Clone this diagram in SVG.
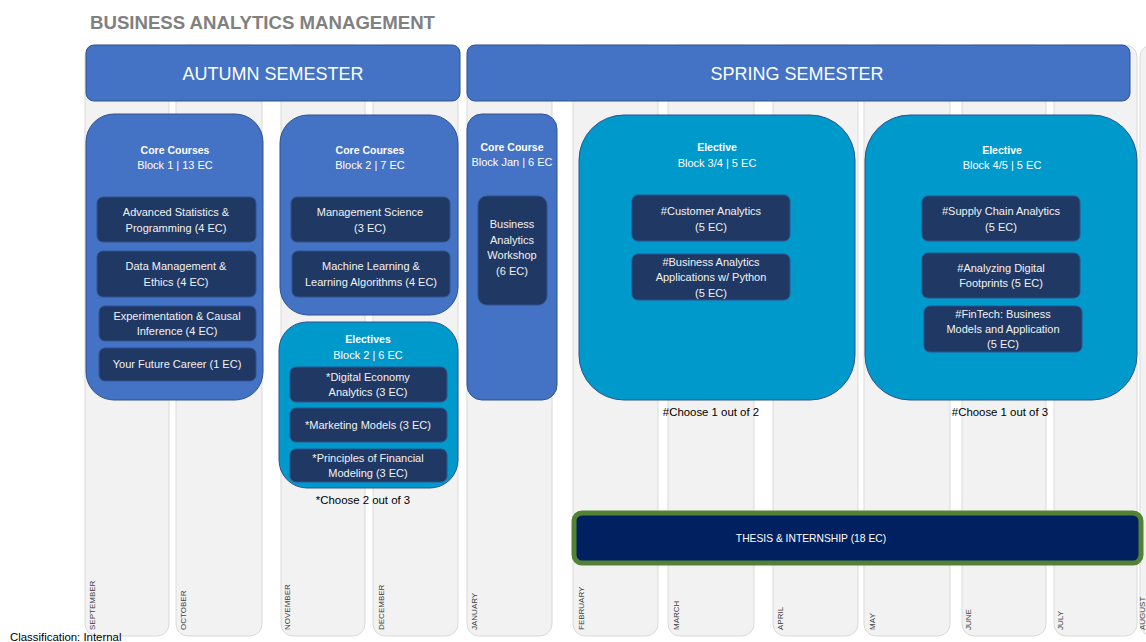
<svg xmlns="http://www.w3.org/2000/svg" width="1146" height="642" viewBox="0 0 1146 642">
<defs>
<style>
text{font-family:"Liberation Sans",Arial,sans-serif;}
.col{fill:#f2f2f2;stroke:#d9d9d9;stroke-width:1;}
.mon{font-size:8px;fill:#404040;}
.hdr{fill:#4472c4;stroke:#2f528f;stroke-width:1;}
.hdrt{font-size:18px;fill:#ffffff;text-anchor:middle;}
.core{fill:#4472c4;stroke:#2f528f;stroke-width:1;}
.elec{fill:#0099cc;stroke:#2f528f;stroke-width:1;}
.item{fill:#203864;stroke:#2f528f;stroke-width:1;}
.bt{font-size:10.5px;font-weight:bold;fill:#ffffff;text-anchor:middle;}
.bs{font-size:11px;fill:#ffffff;text-anchor:middle;}
.it{font-size:11px;fill:#f2f2f2;text-anchor:middle;}
.note{font-size:11.4px;fill:#000000;text-anchor:middle;}
</style>
</defs>
<rect width="1146" height="642" fill="#ffffff"/>
<g id="months">
<rect class="col" x="85" y="45" width="84" height="591" rx="12"/>
<rect class="col" x="176" y="45" width="86" height="591" rx="12"/>
<rect class="col" x="281" y="45" width="84" height="591" rx="12"/>
<rect class="col" x="373" y="45" width="85" height="591" rx="12"/>
<rect class="col" x="467" y="45" width="85" height="591" rx="12"/>
<rect class="col" x="573" y="45" width="85" height="591" rx="12"/>
<rect class="col" x="668" y="45" width="86" height="591" rx="12"/>
<rect class="col" x="773" y="45" width="85" height="591" rx="12"/>
<rect class="col" x="864" y="45" width="86" height="591" rx="12"/>
<rect class="col" x="962" y="45" width="84" height="591" rx="12"/>
<rect class="col" x="1054" y="45" width="83" height="591" rx="12"/>
<rect class="col" x="1140" y="45" width="84" height="591" rx="12"/>
<text class="mon" transform="translate(95,630) rotate(-90)">SEPTEMBER</text>
<text class="mon" transform="translate(186,630) rotate(-90)">OCTOBER</text>
<text class="mon" transform="translate(290,630) rotate(-90)">NOVEMBER</text>
<text class="mon" transform="translate(384,630) rotate(-90)">DECEMBER</text>
<text class="mon" transform="translate(477,630) rotate(-90)">JANUARY</text>
<text class="mon" transform="translate(584,630) rotate(-90)">FEBRUARY</text>
<text class="mon" transform="translate(679,630) rotate(-90)">MARCH</text>
<text class="mon" transform="translate(783,630) rotate(-90)">APRIL</text>
<text class="mon" transform="translate(875,630) rotate(-90)">MAY</text>
<text class="mon" transform="translate(971,630) rotate(-90)">JUNE</text>
<text class="mon" transform="translate(1063,630) rotate(-90)">JULY</text>
<text class="mon" transform="translate(1145,630) rotate(-90)">AUGUST</text>
</g>
<g id="title">
<text x="90" y="29" font-size="18" font-weight="bold" fill="#808080" textLength="345" lengthAdjust="spacingAndGlyphs">BUSINESS ANALYTICS MANAGEMENT</text>
</g>
<g id="autumn">
<rect class="hdr" x="86" y="45" width="374" height="56" rx="8"/>
<text class="hdrt" x="273" y="80">AUTUMN SEMESTER</text>
</g>
<g id="spring">
<rect class="hdr" x="467" y="45" width="663" height="56" rx="8"/>
<text class="hdrt" x="797" y="80">SPRING SEMESTER</text>
</g>
<g id="core-block1">
<rect class="core" x="86" y="114" width="177" height="286" rx="28"/>
<text class="bt" x="175" y="154">Core Courses</text>
<text class="bs" x="175" y="169">Block 1 | 13 EC</text>
<rect class="item" x="97" y="197" width="159" height="45" rx="6"/>
<text class="it" x="176" y="216">Advanced Statistics &amp;</text>
<text class="it" x="176" y="232">Programming (4 EC)</text>
<rect class="item" x="97" y="251" width="159" height="46" rx="6"/>
<text class="it" x="176" y="270">Data Management &amp;</text>
<text class="it" x="176" y="286">Ethics (4 EC)</text>
<rect class="item" x="99" y="306" width="157" height="35" rx="6"/>
<text class="it" x="177" y="320">Experimentation &amp; Causal</text>
<text class="it" x="177" y="335">Inference (4 EC)</text>
<rect class="item" x="99" y="348" width="157" height="33" rx="6"/>
<text class="it" x="177" y="368">Your Future Career (1 EC)</text>
</g>
<g id="core-block2">
<rect class="core" x="280" y="115" width="178" height="200" rx="28"/>
<text class="bt" x="370" y="154">Core Courses</text>
<text class="bs" x="370" y="169">Block 2 | 7 EC</text>
<rect class="item" x="291" y="197" width="159" height="45" rx="6"/>
<text class="it" x="370" y="216">Management Science</text>
<text class="it" x="370" y="232">(3 EC)</text>
<rect class="item" x="292" y="251" width="158" height="46" rx="6"/>
<text class="it" x="371" y="270">Machine Learning &amp;</text>
<text class="it" x="371" y="286">Learning Algorithms (4 EC)</text>
</g>
<g id="electives-block2">
<rect class="elec" x="279" y="322" width="179" height="166" rx="28"/>
<text class="bt" x="368" y="343">Electives</text>
<text class="bs" x="368" y="359">Block 2 | 6 EC</text>
<rect class="item" x="290" y="367" width="157" height="35" rx="6"/>
<text class="it" x="368" y="381">*Digital Economy</text>
<text class="it" x="368" y="396">Analytics (3 EC)</text>
<rect class="item" x="290" y="408" width="157" height="34" rx="6"/>
<text class="it" x="368" y="429">*Marketing Models (3 EC)</text>
<rect class="item" x="290" y="449" width="157" height="33" rx="6"/>
<text class="it" x="368" y="462">*Principles of Financial</text>
<text class="it" x="368" y="477">Modeling (3 EC)</text>
<text class="note" x="363" y="504">*Choose 2 out of 3</text>
</g>
<g id="core-jan">
<rect class="core" x="467" y="114" width="90" height="286" rx="15"/>
<text class="bt" x="512" y="151">Core Course</text>
<text class="bs" x="512" y="166">Block Jan | 6 EC</text>
<rect class="item" x="478" y="196" width="69" height="109" rx="9"/>
<text class="it" x="512" y="228">Business</text>
<text class="it" x="512" y="244">Analytics</text>
<text class="it" x="512" y="259">Workshop</text>
<text class="it" x="512" y="275">(6 EC)</text>
</g>
<g id="elective-block34">
<rect class="elec" x="579" y="115" width="276" height="285" rx="45"/>
<text class="bt" x="717" y="151">Elective</text>
<text class="bs" x="717" y="167">Block 3/4 | 5 EC</text>
<rect class="item" x="632" y="195" width="158" height="46" rx="6"/>
<text class="it" x="711" y="215">#Customer Analytics</text>
<text class="it" x="711" y="231">(5 EC)</text>
<rect class="item" x="632" y="254" width="158" height="46" rx="6"/>
<text class="it" x="711" y="266">#Business Analytics</text>
<text class="it" x="711" y="281">Applications w/ Python</text>
<text class="it" x="711" y="297">(5 EC)</text>
<text class="note" x="711" y="416">#Choose 1 out of 2</text>
</g>
<g id="elective-block45">
<rect class="elec" x="865" y="115" width="272" height="285" rx="45"/>
<text class="bt" x="1002" y="154">Elective</text>
<text class="bs" x="1002" y="169">Block 4/5 | 5 EC</text>
<rect class="item" x="922" y="196" width="158" height="45" rx="6"/>
<text class="it" x="1001" y="215">#Supply Chain Analytics</text>
<text class="it" x="1001" y="231">(5 EC)</text>
<rect class="item" x="922" y="253" width="158" height="45" rx="6"/>
<text class="it" x="1001" y="272">#Analyzing Digital</text>
<text class="it" x="1001" y="287">Footprints (5 EC)</text>
<rect class="item" x="924" y="306" width="158" height="46" rx="6"/>
<text class="it" x="1003" y="318">#FinTech: Business</text>
<text class="it" x="1003" y="333">Models and Application</text>
<text class="it" x="1003" y="348">(5 EC)</text>
<text class="note" x="1000" y="416">#Choose 1 out of 3</text>
</g>
<g id="thesis">
<rect x="574" y="513" width="567" height="50" rx="8" fill="#002060" stroke="#548235" stroke-width="5"/>
<text x="811" y="542" font-size="10.3" fill="#ffffff" text-anchor="middle">THESIS &amp; INTERNSHIP (18 EC)</text>
</g>
<g id="connectors"></g>
<g id="footer">
<text x="10" y="641" font-size="11.4" fill="#000000">Classification: Internal</text>
</g>
</svg>
